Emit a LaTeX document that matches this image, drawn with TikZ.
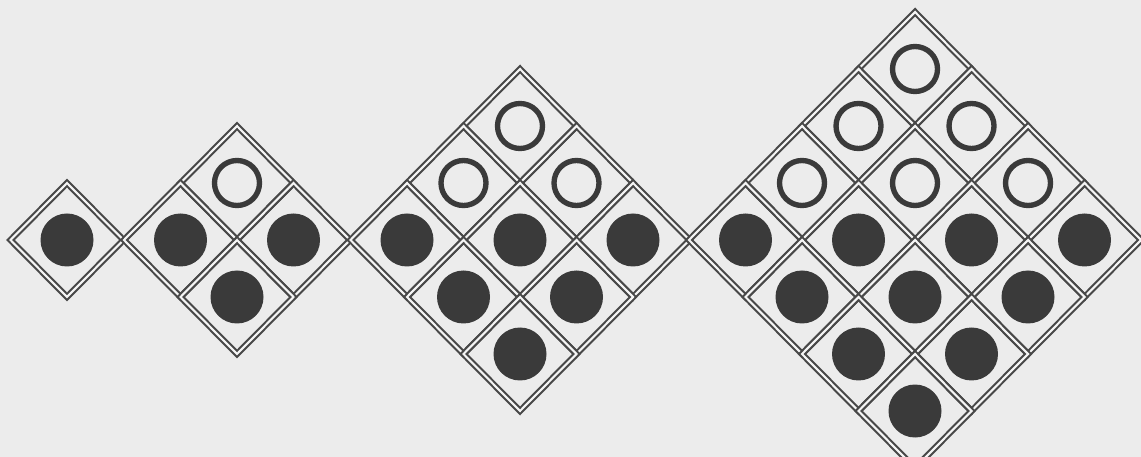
\documentclass[tikz,border=0pt]{standalone}
\definecolor{PaperGray}{HTML}{ECECEC}
\definecolor{GridInk}{HTML}{484848}
\definecolor{DotInk}{HTML}{3A3A3A}
\usetikzlibrary{calc}

\begin{document}
\begin{tikzpicture}[
  x=0.025cm, y=-0.025cm,
  cell/.style={draw=GridInk, line width=1.5pt, double=white!96!black,
               double distance=1.5pt, line join=miter},
  fulldot/.style={fill=DotInk},
  ringdot/.style={draw=DotInk, line width=3.8pt}
]
  % paper
  \fill[PaperGray] (0,0) rectangle (1141,457);
  \useasboundingbox (0,0) rectangle (1141,457);

  \begin{scope}
    \clip (0,0) rectangle (1141,457);
    % the four diamonds: size / centre x
    \foreach \n/\cx in {1/67, 2/237, 3/520, 4/915} {
      \foreach \i in {1,...,\n} {
        \foreach \j in {1,...,\n} {
          \pgfmathsetmacro{\px}{\cx+(\i-\j)*56.5}
          \pgfmathsetmacro{\py}{240-\n*57+(\i+\j-1)*57}
          \pgfmathtruncatemacro{\row}{\i+\j}
          \coordinate (c) at (\px,\py);
          \draw[cell] ($(c)+(-56.5,0)$) -- ($(c)+(0,-57)$)
                   -- ($(c)+(56.5,0)$) -- ($(c)+(0,57)$) -- cycle;
          % open rings above the middle row, full dots below
          \ifnum\row>\n
            \fill[fulldot] (c) circle[radius=26.5];
          \else
            \draw[ringdot] (c) circle[radius=22.5];
          \fi
        }
      }
    }
  \end{scope}
\end{tikzpicture}
\end{document}
